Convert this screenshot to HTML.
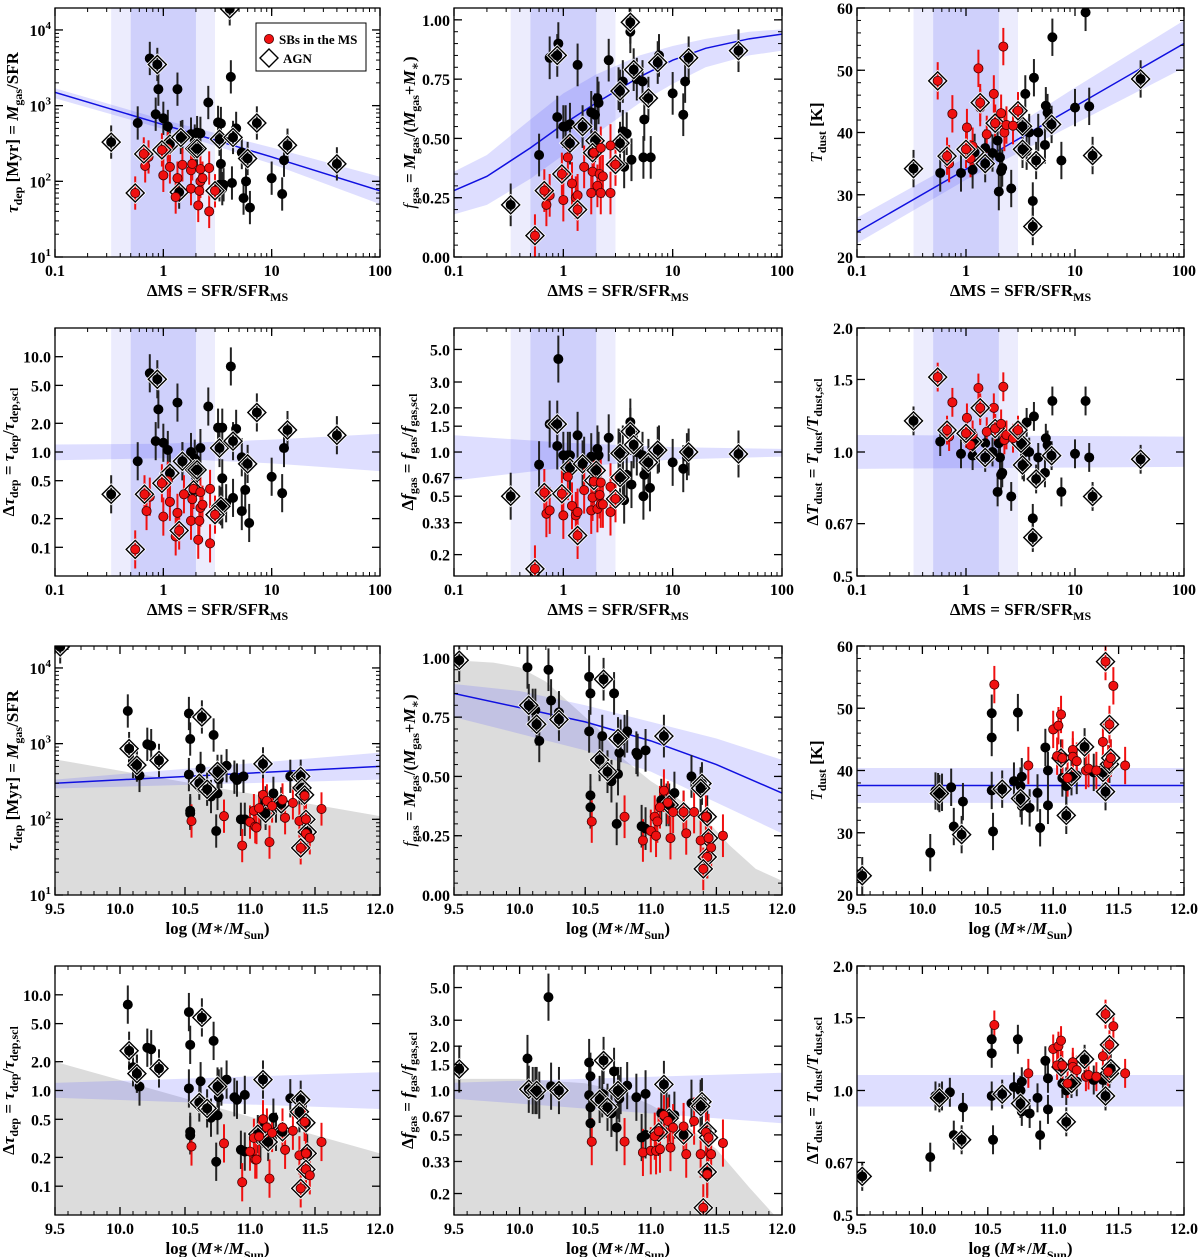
<!DOCTYPE html>
<html><head><meta charset="utf-8">
<style>
html,body{margin:0;padding:0;background:#fff;}
svg{display:block;font-family:"Liberation Serif","DejaVu Serif",serif;}
.tl{font-size:16px;font-weight:bold;fill:#000;}
.ttl{font-size:17px;font-weight:bold;fill:#000;}
</style></head>
<body>
<svg id="fig" width="1200" height="1257" viewBox="0 0 1200 1257" xmlns="http://www.w3.org/2000/svg"></svg>
<script>
// ===== Panel 1: tau_dep vs dMS =====
const p1Black=[[0.75,4200],[0.85,770],[0.9,1650],[1.0,680],[1.1,530],[1.35,1650],[0.58,590],[1.5,390],[1.8,420],[1.95,340],[2.0,290],[2.05,440],[2.2,430],[2.6,1100],[3.2,600],[3.4,580],[3.4,170],[4.2,2400],[4.7,500],[5.3,240],[3.3,90],[3.5,80],[3.6,90],[4.3,95],[5.5,60],[5.8,100],[6.3,45],[10,110],[12.5,68],[13,190],[1.1,310]];
const p1Agn=[[0.33,330],[0.88,3500],[4.1,19000],[1.15,310],[1.45,380],[1.95,270],[2.05,270],[3.3,360],[4.4,380],[7.3,590],[6.0,200],[14,300],[40,170],[1.4,72]];
const p1AgnRed=[[0.55,70],[0.66,230],[0.97,260],[3.0,75]];
const p1Red=[[0.68,160],[0.73,210],[1.0,120],[1.1,270],[1.15,155],[1.3,62],[1.35,110],[1.5,165],[1.8,80],[1.8,140],[1.85,170],[2.1,48],[2.15,75],[2.2,100],[2.2,145],[2.3,110],[2.65,40],[2.65,150]];
const p1FitX=[0.1,1,10,100];
const p1FitY=[1500,560,210,75];
const p1BandLo=[1250,490,170,50];
const p1BandHi=[1700,650,280,115];
// ===== Panel 2: fgas vs dMS =====
const p2Black=[[0.75,0.84],[0.9,0.9],[0.88,0.59],[1.0,0.55],[1.05,0.55],[1.15,0.56],[1.35,0.81],[0.6,0.43],[1.8,0.61],[1.95,0.6],[2.0,0.5],[2.05,0.67],[2.1,0.65],[2.6,0.83],[3.2,0.71],[3.5,0.74],[3.5,0.53],[3.6,0.38],[3.8,0.52],[4.1,0.95],[4.2,0.41],[4.7,0.75],[5.3,0.74],[5.5,0.58],[5.4,0.42],[6.3,0.42],[7.5,0.85],[10,0.69],[12.5,0.6],[13,0.74]];
const p2Agn=[[0.33,0.22],[0.88,0.85],[4.1,0.99],[1.15,0.48],[1.5,0.55],[1.95,0.49],[3.3,0.7],[3.3,0.48],[4.4,0.79],[6,0.67],[7.3,0.82],[14,0.84],[40,0.87],[1.85,0.44]];
const p2AgnRed=[[0.55,0.09],[0.67,0.28],[0.97,0.35],[1.35,0.2],[3.0,0.39]];
const p2Red=[[0.7,0.22],[0.75,0.26],[1.0,0.24],[1.1,0.42],[1.2,0.31],[1.3,0.25],[1.35,0.26],[1.55,0.38],[1.8,0.27],[1.85,0.36],[1.9,0.44],[2.05,0.3],[2.15,0.35],[2.2,0.27],[2.2,0.46],[2.3,0.34],[2.7,0.27],[2.7,0.47]];
const p2FitX=[0.1,0.2,0.5,1,2,5,10,20,50,100];
const p2FitY=[0.28,0.34,0.46,0.56,0.65,0.76,0.83,0.88,0.92,0.94];
const p2BandLo=[0.18,0.22,0.33,0.43,0.52,0.65,0.73,0.8,0.85,0.87];
const p2BandHi=[0.36,0.43,0.58,0.69,0.77,0.85,0.89,0.92,0.95,0.96];
// ===== Panel 3: Tdust vs dMS =====
const p3Black=[[0.58,33.5],[0.9,33.5],[1.15,34],[1.5,37.5],[1.75,36.7],[1.95,38.7],[2.0,30.5],[2.05,36],[2.1,33.8],[2.15,34.3],[2.6,31],[3.3,40.5],[3.5,46.2],[3.6,37],[3.8,40],[4.1,29],[4.2,48.8],[4.6,40],[5.3,38],[5.4,44.3],[5.6,43.2],[6.2,55.3],[7.5,35.5],[10,44],[12.5,59.3],[13.5,44.2]];
const p3Agn=[[0.33,34.2],[1.2,36.8],[1.5,35],[1.85,41.5],[3.3,41],[3.3,37.3],[4.1,24.9],[4.4,35.5],[6.1,41.3],[14.5,36.3],[40,48.6]];
const p3AgnRed=[[0.55,48.3],[0.67,36.2],[1.35,44.8],[3.0,43.5],[1.0,37.3]];
const p3Red=[[0.7,35],[0.75,43],[1.02,40.8],[1.1,35.8],[1.15,37.8],[1.3,50.3],[1.35,44],[1.55,39.7],[1.8,46.2],[1.85,41.5],[2.1,43.1],[2.2,53.8],[2.25,40],[2.35,41.2],[2.7,41.1]];
const p3FitX=[0.1,1,10,100];
const p3FitY=[24,34.1,44.2,54.3];
const p3BandLo=[22.2,32.4,41.4,50.4];
const p3BandHi=[26.3,36,47.2,58];
// ===== Panel 4: dTau vs dMS =====
const p4Black=[[0.75,6.7],[0.85,1.3],[0.9,2.8],[1.0,1.25],[1.1,1.05],[1.35,3.3],[0.58,0.8],[1.5,0.8],[1.8,1.0],[1.95,0.85],[2.0,0.55],[2.2,1.1],[2.6,3.0],[3.2,1.8],[3.5,1.8],[3.5,0.53],[3.3,0.28],[3.5,0.25],[3.8,0.29],[4.2,7.9],[4.4,0.33],[4.7,1.75],[5.3,0.88],[5.3,0.24],[5.7,0.4],[6.2,0.18],[10,0.55],[12.5,0.37],[13,1.1]];
const p4Agn=[[0.33,0.36],[0.88,5.8],[1.15,0.6],[1.5,0.8],[1.95,0.65],[1.9,0.4],[3.3,1.1],[3.4,0.27],[4.4,1.3],[6,0.75],[7.3,2.6],[14,1.7],[40,1.5],[2.05,0.65]];
const p4AgnRed=[[0.55,0.095],[0.67,0.36],[0.97,0.47],[1.4,0.15],[3.0,0.22]];
const p4Red=[[0.7,0.24],[0.75,0.34],[1.0,0.21],[1.1,0.5],[1.15,0.3],[1.3,0.13],[1.35,0.23],[1.55,0.36],[1.8,0.19],[1.85,0.32],[1.9,0.41],[2.1,0.12],[2.15,0.19],[2.2,0.26],[2.2,0.38],[2.3,0.28],[2.7,0.11],[2.7,0.41]];
const p4FitX=[0.1,1,10,100];
const p4BandLo=[0.82,0.86,0.76,0.63];
const p4BandHi=[1.2,1.22,1.35,1.55];
// ===== Panel 5: dFgas vs dMS =====
const p5Black=[[0.75,1.55],[0.9,4.3],[0.88,1.1],[1.0,0.95],[1.1,0.95],[1.15,0.95],[1.35,1.3],[0.6,0.82],[1.55,0.88],[1.8,0.93],[2.0,0.75],[2.05,1.05],[2.1,0.95],[2.6,1.25],[3.2,1.0],[3.5,1.05],[3.5,0.68],[3.6,0.47],[3.8,0.7],[4.1,1.6],[4.2,0.6],[4.7,1.0],[5.3,0.95],[5.5,0.7],[5.4,0.5],[6.2,0.57],[7.5,1.05],[10,0.85],[12.5,0.77],[13.5,0.93]];
const p5Agn=[[0.33,0.5],[0.88,1.55],[4.1,1.38],[1.15,0.78],[1.5,0.83],[1.9,0.64],[3.3,0.98],[3.3,0.67],[4.4,1.12],[6,0.85],[7.3,1.03],[14,1.0],[40,0.97],[2.0,0.75]];
const p5AgnRed=[[0.55,0.16],[0.67,0.53],[0.97,0.52],[1.35,0.27],[3.0,0.48]];
const p5Red=[[0.7,0.38],[0.75,0.4],[1.0,0.37],[1.1,0.68],[1.2,0.43],[1.3,0.37],[1.35,0.39],[1.55,0.55],[1.8,0.4],[1.85,0.49],[1.9,0.63],[2.05,0.41],[2.15,0.51],[2.2,0.44],[2.2,0.62],[2.3,0.44],[2.7,0.39],[2.7,0.58]];
const p5FitX=[0.1,1,10,100];
const p5BandLo=[0.64,0.78,0.89,0.93];
const p5BandHi=[1.3,1.16,1.08,1.05];
// ===== Panel 6: dTdust vs dMS =====
const p6Black=[[0.58,1.06],[0.9,0.99],[1.15,0.98],[1.5,1.05],[1.75,1.0],[1.95,0.8],[2.0,1.05],[2.05,0.97],[2.1,0.88],[2.15,0.89],[2.6,0.78],[3.3,1.04],[3.5,1.0],[3.6,1.18],[3.8,1.0],[4.1,0.69],[4.2,1.22],[4.6,0.97],[5.3,0.89],[5.4,1.08],[5.6,1.04],[6.2,1.33],[7.5,0.8],[10,0.99],[12.5,1.33],[13.5,0.97],[3.4,0.92],[1.2,1.05]];
const p6Agn=[[0.33,1.19],[1.15,1.06],[1.5,0.97],[1.85,1.14],[3.2,1.05],[3.3,0.93],[4.1,0.62],[4.4,0.86],[6.1,0.98],[14.5,0.78],[40,0.96]];
const p6AgnRed=[[0.55,1.52],[0.67,1.13],[1.35,1.28],[3.0,1.13],[1.0,1.11]];
const p6Red=[[0.7,1.09],[0.75,1.32],[1.02,1.21],[1.1,1.04],[1.15,1.1],[1.3,1.43],[1.35,1.26],[1.55,1.12],[1.8,1.28],[1.85,1.14],[2.1,1.17],[2.2,1.44],[2.25,1.07],[2.35,1.1],[2.7,1.08]];
const p6FitX=[0.1,100];
const p6BandLo=[0.91,0.92];
const p6BandHi=[1.1,1.09];
// ===== Panel 7: tau_dep vs mass =====
const p7Black=[[10.06,2700],[10.1,580],[10.13,540],[10.15,380],[10.21,980],[10.24,940],[10.53,2500],[10.54,1150],[10.53,390],[10.54,130],[10.54,120],[10.62,470],[10.72,1300],[10.74,70],[10.75,220],[10.75,420],[10.76,340],[10.78,430],[10.82,510],[10.88,360],[10.9,330],[10.93,100],[10.95,370],[10.96,100],[10.7,200],[11.08,130],[11.12,165],[11.18,220],[11.2,150],[11.31,370],[11.38,260]];
const p7Agn=[[9.54,19000],[10.07,860],[10.13,520],[10.3,600],[10.61,300],[10.63,2250],[10.67,250],[10.75,430],[11.1,540],[11.12,120],[11.24,160],[11.39,370],[11.4,260],[11.43,100],[11.44,68],[11.42,210]];
const p7AgnRed=[[11.39,42]];
const p7Red=[[10.55,95],[10.8,110],[10.94,45],[11.0,92],[11.03,130],[11.04,80],[11.05,78],[11.07,140],[11.1,210],[11.13,175],[11.15,50],[11.17,150],[11.25,180],[11.27,105],[11.33,165],[11.38,95],[11.42,205],[11.43,100],[11.43,65],[11.46,57],[11.55,137]];
const p7FitX=[9.5,12];
const p7FitY=[300,500];
const p7BandLo=[255,335];
const p7BandHi=[335,760];
const p7GrayX=[9.5,12];
const p7GrayTop=[620,110];
// ===== Panel 8: fgas vs mass =====
const p8Black=[[10.06,0.96],[10.1,0.78],[10.12,0.78],[10.15,0.65],[10.22,0.95],[10.24,0.82],[10.3,0.77],[10.53,0.92],[10.54,0.85],[10.53,0.69],[10.54,0.42],[10.54,0.37],[10.63,0.67],[10.72,0.85],[10.74,0.3],[10.75,0.51],[10.76,0.6],[10.77,0.65],[10.8,0.67],[10.82,0.69],[10.89,0.6],[10.9,0.59],[10.93,0.29],[10.96,0.61],[10.96,0.28],[10.7,0.48],[11.08,0.4],[11.12,0.38],[11.18,0.43],[11.31,0.5],[11.38,0.44]];
const p8Agn=[[9.54,0.99],[10.07,0.8],[10.13,0.72],[10.3,0.74],[10.61,0.57],[10.64,0.91],[10.67,0.52],[10.75,0.66],[11.1,0.67],[11.14,0.38],[11.25,0.35],[11.39,0.47],[11.38,0.45],[11.43,0.33],[11.44,0.24],[11.43,0.16]];
const p8AgnRed=[[11.4,0.11]];
const p8Red=[[10.55,0.31],[10.8,0.33],[10.94,0.23],[11.0,0.27],[11.03,0.33],[11.04,0.25],[11.05,0.31],[11.07,0.37],[11.1,0.44],[11.13,0.39],[11.15,0.24],[11.17,0.35],[11.25,0.35],[11.27,0.26],[11.33,0.35],[11.38,0.23],[11.42,0.33],[11.43,0.16],[11.44,0.24],[11.46,0.2],[11.55,0.25]];
const p8FitX=[9.5,10,10.5,11,11.5,12];
const p8FitY=[0.85,0.79,0.73,0.65,0.55,0.43];
const p8BandLo=[0.75,0.68,0.61,0.52,0.39,0.26];
const p8BandHi=[0.89,0.86,0.8,0.73,0.66,0.57];
const p8GrayX=[9.5,9.8,10.0,10.2,10.4,10.6,10.8,11.0,11.2,11.4,11.6,11.8,12.0];
const p8GrayTop=[0.99,0.98,0.96,0.9,0.8,0.7,0.57,0.48,0.41,0.33,0.21,0.11,0.06];
// ===== Panel 9: Tdust vs mass =====
const p9Black=[[10.06,26.8],[10.1,36.7],[10.12,36.6],[10.15,36.5],[10.22,37.3],[10.24,31],[10.31,35],[10.53,49.2],[10.53,45.3],[10.53,36.8],[10.54,30.2],[10.7,38.3],[10.73,49.3],[10.75,37.5],[10.76,39],[10.76,34.3],[10.82,34],[10.88,36.4],[10.9,30.8],[10.94,43.7],[10.96,40],[10.96,34.4],[11.07,38.8],[11.1,37.5],[11.18,39.2],[11.31,39.7]];
const p9Agn=[[9.54,23.1],[10.13,36.3],[10.3,29.7],[10.61,37],[10.75,35.5],[11.1,32.8],[11.14,39],[11.24,43.8],[11.38,39.7],[11.4,36.6],[11.43,41],[11.44,42],[11.06,42]];
const p9AgnRed=[[11.4,57.5],[11.43,47.4]];
const p9Red=[[10.55,53.8],[10.81,40.8],[11.0,46.6],[11.03,42.3],[11.04,47.2],[11.06,49],[11.07,42],[11.11,38.8],[11.15,43.3],[11.15,42.2],[11.18,41.5],[11.25,40],[11.27,40.3],[11.33,40],[11.38,44.6],[11.42,41.1],[11.44,42],[11.46,53.6],[11.55,40.8]];
const p9FitX=[9.5,12];
const p9FitY=[37.6,37.6];
const p9BandLo=[34.8,34.8];
const p9BandHi=[40.4,40.4];
// ===== Panel 10: dTau vs mass =====
const p10Black=[[10.06,7.9],[10.1,1.75],[10.13,1.5],[10.15,1.1],[10.21,2.8],[10.24,2.7],[10.53,6.6],[10.54,3.0],[10.53,1.05],[10.54,0.37],[10.54,0.34],[10.62,1.25],[10.72,3.3],[10.74,0.18],[10.75,0.55],[10.76,1.05],[10.76,0.85],[10.78,1.1],[10.82,1.3],[10.88,0.85],[10.9,0.8],[10.93,0.24],[10.96,0.9],[10.96,0.23],[10.7,0.52],[11.08,0.3],[11.1,0.4],[11.18,0.52],[11.2,0.37],[11.31,0.83],[11.38,0.58]];
const p10Agn=[[10.07,2.6],[10.13,1.5],[10.3,1.7],[10.61,0.75],[10.63,5.8],[10.67,0.65],[10.75,1.1],[11.1,1.3],[11.06,0.35],[11.14,0.29],[11.25,0.37],[11.39,0.8],[11.38,0.6],[11.43,0.46],[11.44,0.22],[11.43,0.15]];
const p10AgnRed=[[11.39,0.095]];
const p10Red=[[10.55,0.26],[10.8,0.28],[10.94,0.11],[11.0,0.23],[11.03,0.32],[11.04,0.19],[11.05,0.19],[11.07,0.33],[11.1,0.5],[11.13,0.41],[11.15,0.12],[11.17,0.36],[11.25,0.41],[11.27,0.24],[11.33,0.38],[11.38,0.21],[11.42,0.47],[11.43,0.15],[11.46,0.13],[11.55,0.29],[11.43,0.22]];
const p10FitX=[9.5,12];
const p10BandLo=[0.84,0.64];
const p10BandHi=[1.2,1.55];
const p10GrayX=[9.5,12];
const p10GrayTop=[2.0,0.22];
// ===== Panel 11: dFgas vs mass =====
const p11Black=[[10.06,1.65],[10.1,1.0],[10.12,1.0],[10.15,0.93],[10.22,4.3],[10.24,1.07],[10.53,1.55],[10.54,1.25],[10.53,0.93],[10.54,0.77],[10.54,0.6],[10.63,0.95],[10.72,1.35],[10.74,0.56],[10.75,0.93],[10.76,0.88],[10.77,1.0],[10.82,1.08],[10.89,0.9],[10.93,0.48],[10.96,0.95],[10.96,0.5],[10.7,0.7],[11.08,0.7],[11.12,0.69],[11.18,0.68],[11.31,0.82],[11.38,0.82]];
const p11Agn=[[9.54,1.4],[10.07,1.02],[10.13,1.0],[10.3,1.0],[10.61,0.87],[10.64,1.6],[10.67,0.77],[10.75,1.0],[11.1,1.1],[11.06,0.52],[11.14,0.65],[11.25,0.5],[11.39,0.84],[11.38,0.78],[11.43,0.53],[11.44,0.48],[11.43,0.28]];
const p11AgnRed=[[11.4,0.16]];
const p11Red=[[10.55,0.45],[10.8,0.45],[10.94,0.38],[11.0,0.39],[11.03,0.49],[11.04,0.39],[11.06,0.53],[11.07,0.4],[11.1,0.68],[11.13,0.62],[11.15,0.41],[11.17,0.56],[11.25,0.57],[11.27,0.37],[11.33,0.62],[11.38,0.37],[11.42,0.52],[11.43,0.27],[11.44,0.48],[11.46,0.37],[11.55,0.44]];
const p11FitX=[9.5,12];
const p11BandLo=[0.88,0.6];
const p11BandHi=[1.13,1.32];
const p11GrayX=[9.5,10.0,10.5,10.75,11.0,11.25,11.5,11.75,11.95];
const p11GrayTop=[1.2,1.2,1.12,1.0,0.8,0.6,0.4,0.22,0.14];
// ===== Panel 12: dTdust vs mass =====
const p12Black=[[10.06,0.69],[10.1,0.97],[10.15,0.97],[10.21,0.99],[10.24,0.78],[10.31,0.91],[10.53,1.33],[10.53,1.23],[10.53,0.97],[10.54,0.76],[10.7,1.02],[10.73,1.33],[10.75,1.0],[10.76,1.05],[10.76,0.89],[10.82,0.88],[10.88,0.96],[10.9,0.78],[10.94,1.18],[10.96,1.07],[10.96,0.9],[11.07,1.04],[11.1,1.0],[11.18,1.05],[11.31,1.06],[11.38,1.06]];
const p12Agn=[[9.54,0.62],[10.13,0.96],[10.3,0.76],[10.61,0.98],[10.75,0.93],[11.1,0.84],[11.14,1.04],[11.24,1.19],[11.4,0.97],[11.43,1.1],[11.44,1.13],[11.06,1.14]];
const p12AgnRed=[[11.4,1.53],[11.43,1.29]];
const p12Red=[[10.55,1.44],[10.81,1.1],[11.0,1.26],[11.03,1.15],[11.04,1.28],[11.06,1.32],[11.07,1.15],[11.11,1.04],[11.15,1.17],[11.15,1.14],[11.18,1.12],[11.25,1.08],[11.27,1.09],[11.33,1.08],[11.38,1.21],[11.42,1.11],[11.46,1.43],[11.55,1.1]];
const p12FitX=[9.5,12];
const p12BandLo=[0.915,0.915];
const p12BandHi=[1.09,1.09];
// ===== Tick values =====
const msTickVals=[0.1,1,10,100];
const msTickLabels=["0.1","1","10","100"];
const massTickVals=[9.5,10,10.5,11,11.5,12];
const massTickLabels=["9.5","10.0","10.5","11.0","11.5","12.0"];
const tauTickVals=[10,100,1000,10000];
const fgasTickVals=[0,0.25,0.5,0.75,1.0];
const fgasTickLabels=["0.00","0.25","0.50","0.75","1.00"];
const tTickVals=[20,30,40,50,60];
const dtauTickVals=[0.1,0.2,0.5,1,2,5,10];
const dtauTickLabels=["0.1","0.2","0.5","1.0","2.0","5.0","10.0"];
const dfTickVals=[0.2,0.33,0.5,0.67,1,1.5,2,3,5];
const dfTickLabels=["0.2","0.33","0.5","0.67","1.0","1.5","2.0","3.0","5.0"];
const dtTickVals=[0.5,0.67,1,1.5,2];
const dtTickLabels=["0.5","0.67","1.0","1.5","2.0"];

const NS="http://www.w3.org/2000/svg";
const svg=document.getElementById('fig');
function mk(tag,attrs,parent){const e=document.createElementNS(NS,tag);for(const k in attrs)e.setAttribute(k,attrs[k]);(parent||svg).appendChild(e);return e;}
function scale(ax,p0,p1){
  if(ax.type==='log'){const a=Math.log10(ax.min),b=Math.log10(ax.max);return v=>p0+(Math.log10(v)-a)/(b-a)*(p1-p0);}
  return v=>p0+(v-ax.min)/(ax.max-ax.min)*(p1-p0);
}
const cols=[[55,380],[454,782],[857,1184]];
const rows=[[8,257],[328,576],[646,895],[966,1215]];
const XMS={type:'log',min:0.1,max:100};
const XM={type:'lin',min:9.5,max:12};
const YTAU={type:'log',min:10,max:19500};
const YF={type:'lin',min:0,max:1.05};
const YT={type:'lin',min:20,max:60};
const YDTAU={type:'log',min:0.05,max:20};
const YDF={type:'log',min:0.143,max:7};
const YDT={type:'log',min:0.5,max:2};
let clipId=0;

function logMinors(ax){const r=[];for(let d=Math.floor(Math.log10(ax.min));d<=Math.ceil(Math.log10(ax.max));d++){for(let m=1;m<10;m++){const v=m*Math.pow(10,d);if(v>=ax.min&&v<=ax.max)r.push(v);}}return r;}
function linMinors(ax,step){const r=[];for(let v=ax.min;v<=ax.max+1e-9;v+=step)r.push(+v.toFixed(4));return r;}

function panel(o){
  const [x0,x1]=cols[o.c],[y0,y1]=rows[o.r];
  const sx=scale(o.xa,x0,x1), sy=scale(o.ya,y1,y0);
  const g=mk('g',{});
  
  
  const cid='clip'+(clipId++);
  const cp=mk('clipPath',{id:cid},g);mk('rect',{x:x0,y:y0,width:x1-x0,height:y1-y0},cp);
  const plot=mk('g',{'clip-path':'url(#'+cid+')'},g);
  if(o.xa===XMS){
    const lb=mk('rect',{x:sx(0.33),y:y0,width:sx(3)-sx(0.33),height:y1-y0,fill:'#ececfd'},plot);
    
    
    const db=mk('rect',{x:sx(0.5),y:y0,width:sx(2)-sx(0.5),height:y1-y0,fill:'#cfd0fb'},plot);
    
    
  }
  if(o.grayX){
    let d='M'+sx(o.grayX[0])+','+y1;
    o.grayX.forEach((x,i)=>{d+=' L'+sx(x)+','+sy(o.grayTop[i]);});
    d+=' L'+sx(o.grayX[o.grayX.length-1])+','+y1+' L'+x1+','+y1+'Z';
    const gr=mk('path',{d:d,fill:'#dcdcdc'},plot);
    
    
  }
  if(o.fitX){
    let d='';
    o.fitX.forEach((x,i)=>{d+=(i?' L':'M')+sx(x)+','+sy(o.bandHi[i]);});
    for(let i=o.fitX.length-1;i>=0;i--)d+=' L'+sx(o.fitX[i])+','+sy(o.bandLo[i]);
    d+='Z';
    const b=mk('path',{d:d,fill:'rgba(90,90,255,0.2)'},plot);
    
    
    if(o.fitY){
      let l='';o.fitX.forEach((x,i)=>{l+=(i?' L':'M')+sx(x)+','+sy(o.fitY[i]);});
      const ln=mk('path',{d:l,fill:'none',stroke:'#1010e0','stroke-width':1.5},plot);
      
      
    }
  }
  function ebar(p,col){
    const x=sx(p[0]);let ya,yb;
    if(o.ya.type==='log'){ya=sy(p[1]*Math.pow(10,o.err));yb=sy(p[1]/Math.pow(10,o.err));}
    else{ya=sy(p[1]+o.err);yb=sy(p[1]-o.err);}
    const e=mk('line',{x1:x,x2:x,y1:ya,y2:yb,stroke:col,'stroke-width':2},plot);
    
    
  }
  o.black.forEach(p=>ebar(p,'#222'));o.agn.forEach(p=>ebar(p,'#222'));
  o.red.forEach(p=>ebar(p,'#f01010'));o.agnRed.forEach(p=>ebar(p,'#f01010'));
  function diamond(p){
    const x=sx(p[0]),y=sy(p[1]),r=9;
    const d='M'+x+','+(y-r)+' L'+(x+r)+','+y+' L'+x+','+(y+r)+' L'+(x-r)+','+y+'Z';
    mk('path',{d:d,fill:'none',stroke:'#fff','stroke-width':3},plot);
    const dm=mk('path',{d:d,fill:'none',stroke:'#000','stroke-width':1.4},plot);
    
    
  }
  function dot(p,fill){
    const c=mk('circle',{cx:sx(p[0]),cy:sy(p[1]),r:4.6,fill:fill,stroke:fill==='#000'?'#000':'#400','stroke-width':0.8},plot);
    
    
  }
  o.black.forEach(p=>dot(p,'#000'));
  o.agn.forEach(p=>{diamond(p);dot(p,'#000');});
  o.red.forEach(p=>dot(p,'#f01010'));
  o.agnRed.forEach(p=>{diamond(p);dot(p,'#f01010');});
  const fr=mk('rect',{x:x0,y:y0,width:x1-x0,height:y1-y0,fill:'none',stroke:'#000','stroke-width':1.3},g);
  
  
  const xmin=o.xa.type==='log'?logMinors(o.xa):linMinors(o.xa,0.1);
  xmin.forEach(v=>{const x=sx(v);mk('line',{x1:x,x2:x,y1:y1,y2:y1-4,stroke:'#000','stroke-width':1},g);mk('line',{x1:x,x2:x,y1:y0,y2:y0+4,stroke:'#000','stroke-width':1},g);});
  o.xt.forEach((v,i)=>{const x=sx(v);mk('line',{x1:x,x2:x,y1:y1,y2:y1-8,stroke:'#000','stroke-width':1.3},g);mk('line',{x1:x,x2:x,y1:y0,y2:y0+8,stroke:'#000','stroke-width':1.3},g);
    const t=mk('text',{x:x,y:y1+19,'text-anchor':'middle',class:'tl'},g);t.textContent=o.xl[i];
    
    });
  if(o.yMinor){o.yMinor.forEach(v=>{const y=sy(v);mk('line',{x1:x0,x2:x0+4,y1:y,y2:y,stroke:'#000'},g);mk('line',{x1:x1,x2:x1-4,y1:y,y2:y,stroke:'#000'},g);});}
  o.yt.forEach((v,i)=>{const y=sy(v);mk('line',{x1:x0,x2:x0+8,y1:y,y2:y,stroke:'#000','stroke-width':1.3},g);mk('line',{x1:x1,x2:x1-8,y1:y,y2:y,stroke:'#000','stroke-width':1.3},g);
    const t=mk('text',{x:x0-4,y:y+6,'text-anchor':'end',class:'tl'},g);
    if(o.ySup){t.textContent='10';const s=mk('tspan',{dy:-7,'font-size':11},t);s.textContent=String(Math.round(Math.log10(v)));}
    else t.textContent=o.yl[i];
    
    });
  const xt=mk('text',{x:(x0+x1)/2,y:y1+39,'text-anchor':'middle',class:'ttl'},g);
  xt.innerHTML=o.xTitle;
  
  
  const ty=(y0+y1)/2;
  const yt=mk('text',{x:0,y:0,'text-anchor':'middle',class:'ttl',transform:'translate('+(x0-o.yOff)+','+ty+') rotate(-90)'},g);
  yt.innerHTML=o.yTitle;
  
  
  return {sx,sy,x0,y0};
}
const XT_MS='ΔMS = SFR/SFR<tspan dy="5" font-size="12">MS</tspan>';
const XT_M='log (<tspan font-style="italic">M</tspan><tspan font-style="italic">∗</tspan>/<tspan font-style="italic">M</tspan><tspan dy="5" font-size="12">Sun</tspan><tspan dy="-5">)</tspan>';
const YT_TAU='<tspan font-style="italic">τ</tspan><tspan dy="4" font-size="12">dep</tspan><tspan dy="-4"> [Myr] = </tspan><tspan font-style="italic">M</tspan><tspan dy="4" font-size="12">gas</tspan><tspan dy="-4">/SFR</tspan>';
const YT_F='<tspan font-style="italic" font-weight="normal">f</tspan><tspan dy="4" font-size="12">gas</tspan><tspan dy="-4"> = </tspan><tspan font-style="italic">M</tspan><tspan dy="4" font-size="12">gas</tspan><tspan dy="-4">/(</tspan><tspan font-style="italic">M</tspan><tspan dy="4" font-size="12">gas</tspan><tspan dy="-4">+</tspan><tspan font-style="italic">M</tspan><tspan dy="4" font-size="12">∗</tspan><tspan dy="-4">)</tspan>';
const YT_T='<tspan font-style="italic" font-weight="normal">T</tspan><tspan dy="4" font-size="12">dust</tspan><tspan dy="-4"> [K]</tspan>';
const YT_DTAU='Δ<tspan font-style="italic">τ</tspan><tspan dy="4" font-size="12">dep</tspan><tspan dy="-4"> = </tspan><tspan font-style="italic">τ</tspan><tspan dy="4" font-size="12">dep</tspan><tspan dy="-4">/</tspan><tspan font-style="italic">τ</tspan><tspan dy="4" font-size="12">dep,scl</tspan>';
const YT_DF='Δ<tspan font-style="italic">f</tspan><tspan dy="4" font-size="12">gas</tspan><tspan dy="-4"> = </tspan><tspan font-style="italic">f</tspan><tspan dy="4" font-size="12">gas</tspan><tspan dy="-4">/</tspan><tspan font-style="italic">f</tspan><tspan dy="4" font-size="12">gas,scl</tspan>';
const YT_DT='Δ<tspan font-style="italic">T</tspan><tspan dy="4" font-size="12">dust</tspan><tspan dy="-4"> = </tspan><tspan font-style="italic">T</tspan><tspan dy="4" font-size="12">dust</tspan><tspan dy="-4">/</tspan><tspan font-style="italic">T</tspan><tspan dy="4" font-size="12">dust,scl</tspan>';

const yTau={ya:YTAU,yt:tauTickVals,ySup:true,yMinor:logMinors(YTAU),yTitle:YT_TAU,yOff:37};
const yF={ya:YF,yt:fgasTickVals,yl:fgasTickLabels,yMinor:linMinors(YF,0.05),yTitle:YT_F,yOff:39};
const yT={ya:YT,yt:tTickVals,yl:tTickVals.map(String),yMinor:linMinors(YT,2),yTitle:YT_T,yOff:35};
const yDtau={ya:YDTAU,yt:dtauTickVals,yl:dtauTickLabels,yTitle:YT_DTAU,yOff:41};
const yDf={ya:YDF,yt:dfTickVals,yl:dfTickLabels,yTitle:YT_DF,yOff:41};
const yDt={ya:YDT,yt:dtTickVals,yl:dtTickLabels,yTitle:YT_DT,yOff:39};
const xMs={xa:XMS,xt:msTickVals,xl:msTickLabels,xTitle:XT_MS};
const xM={xa:XM,xt:massTickVals,xl:massTickLabels,xTitle:XT_M};

panel(Object.assign({name:'panel-tau-vs-dms',r:0,c:0,black:p1Black,agn:p1Agn,agnRed:p1AgnRed,red:p1Red,err:0.22,fitX:p1FitX,fitY:p1FitY,bandLo:p1BandLo,bandHi:p1BandHi},xMs,yTau));
panel(Object.assign({name:'panel-fgas-vs-dms',r:0,c:1,black:p2Black,agn:p2Agn,agnRed:p2AgnRed,red:p2Red,err:0.09,fitX:p2FitX,fitY:p2FitY,bandLo:p2BandLo,bandHi:p2BandHi},xMs,yF));
panel(Object.assign({name:'panel-tdust-vs-dms',r:0,c:2,black:p3Black,agn:p3Agn,agnRed:p3AgnRed,red:p3Red,err:3,fitX:p3FitX,fitY:p3FitY,bandLo:p3BandLo,bandHi:p3BandHi},xMs,yT));
panel(Object.assign({name:'panel-dtau-vs-dms',r:1,c:0,black:p4Black,agn:p4Agn,agnRed:p4AgnRed,red:p4Red,err:0.2,fitX:p4FitX,bandLo:p4BandLo,bandHi:p4BandHi},xMs,yDtau));
panel(Object.assign({name:'panel-dfgas-vs-dms',r:1,c:1,black:p5Black,agn:p5Agn,agnRed:p5AgnRed,red:p5Red,err:0.16,fitX:p5FitX,bandLo:p5BandLo,bandHi:p5BandHi},xMs,yDf));
panel(Object.assign({name:'panel-dtdust-vs-dms',r:1,c:2,black:p6Black,agn:p6Agn,agnRed:p6AgnRed,red:p6Red,err:0.035,fitX:p6FitX,bandLo:p6BandLo,bandHi:p6BandHi},xMs,yDt));
panel(Object.assign({name:'panel-tau-vs-mass',r:2,c:0,black:p7Black,agn:p7Agn,agnRed:p7AgnRed,red:p7Red,err:0.22,fitX:p7FitX,fitY:p7FitY,bandLo:p7BandLo,bandHi:p7BandHi,grayX:p7GrayX,grayTop:p7GrayTop},xM,yTau));
panel(Object.assign({name:'panel-fgas-vs-mass',r:2,c:1,black:p8Black,agn:p8Agn,agnRed:p8AgnRed,red:p8Red,err:0.09,fitX:p8FitX,fitY:p8FitY,bandLo:p8BandLo,bandHi:p8BandHi,grayX:p8GrayX,grayTop:p8GrayTop},xM,yF));
panel(Object.assign({name:'panel-tdust-vs-mass',r:2,c:2,black:p9Black,agn:p9Agn,agnRed:p9AgnRed,red:p9Red,err:3,fitX:p9FitX,fitY:p9FitY,bandLo:p9BandLo,bandHi:p9BandHi},xM,yT));
panel(Object.assign({name:'panel-dtau-vs-mass',r:3,c:0,black:p10Black,agn:p10Agn,agnRed:p10AgnRed,red:p10Red,err:0.2,fitX:p10FitX,bandLo:p10BandLo,bandHi:p10BandHi,grayX:p10GrayX,grayTop:p10GrayTop},xM,yDtau));
panel(Object.assign({name:'panel-dfgas-vs-mass',r:3,c:1,black:p11Black,agn:p11Agn,agnRed:p11AgnRed,red:p11Red,err:0.16,fitX:p11FitX,bandLo:p11BandLo,bandHi:p11BandHi,grayX:p11GrayX,grayTop:p11GrayTop},xM,yDf));
panel(Object.assign({name:'panel-dtdust-vs-mass',r:3,c:2,black:p12Black,agn:p12Agn,agnRed:p12AgnRed,red:p12Red,err:0.035,fitX:p12FitX,bandLo:p12BandLo,bandHi:p12BandHi},xM,yDt));

const lg=mk('g',{});


mk('rect',{x:256,y:23,width:110,height:48,fill:'#fff',stroke:'#000','stroke-width':1},lg);
const ld=mk('circle',{cx:269,cy:39,r:4.6,fill:'#f01010',stroke:'#400','stroke-width':0.8},lg);


const lt1=mk('text',{x:279,y:44,'font-size':13,'font-weight':'bold'},lg);lt1.textContent='SBs in the MS';


const lm=mk('path',{d:'M269,49 L278,58 L269,67 L260,58Z',fill:'none',stroke:'#000','stroke-width':1.4},lg);


const lt2=mk('text',{x:283,y:63,'font-size':13,'font-weight':'bold'},lg);lt2.textContent='AGN';


</script>
</body></html>
